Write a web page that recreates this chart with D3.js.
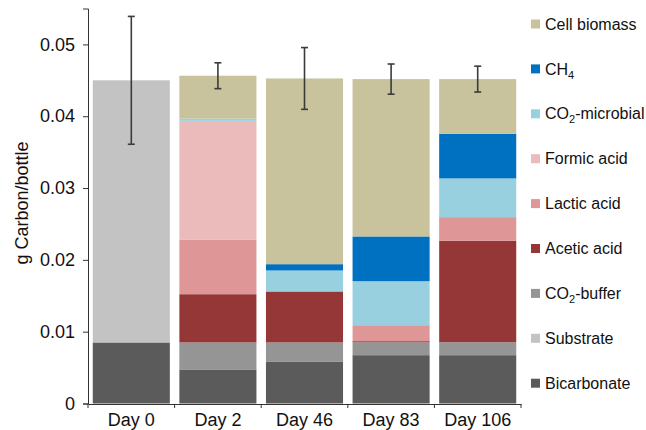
<!DOCTYPE html>
<html>
<head>
<meta charset="utf-8">
<script src="https://cdn.jsdelivr.net/npm/d3@7"></script>
<style>
  html, body { margin: 0; padding: 0; background: #fff; }
  svg text { font-family: "Liberation Sans", Arial, Helvetica, sans-serif; fill: #111; }
</style>
</head>
<body>
<svg id="chart" width="646" height="430"></svg>
<script>
// Carbon balance per bottle over the incubation, stacked by carbon pool
const days = ["Day 0", "Day 2", "Day 46", "Day 83", "Day 106"];

// Pools listed from the bottom of each stack to the top
const bicarbonate  = [0.0085,  0.00474, 0.00585, 0.00673, 0.00673];
const substrate    = [0.0365,  0,       0,       0,       0];
const co2Buffer    = [0,       0.00376, 0.00265, 0.0018,  0.00181];
const aceticAcid   = [0,       0.00672, 0.0071,  0.00015, 0.01411];
const lacticAcid   = [0,       0.00762, 0,       0.00222, 0.0033];
const formicAcid   = [0,       0.01652, 0,       0,       0];
const co2Microbial = [0,       0.0003,  0.00292, 0.00613, 0.00539];
const ch4          = [0,       0,       0.00088, 0.00623, 0.00621];
const cellBiomass  = [0,       0.00598, 0.02586, 0.02191, 0.00762];

// Standard deviation of total carbon per bottle
const totalError = [0.0089, 0.0018, 0.0043, 0.0021, 0.0018];

const yTicks = [0, 0.01, 0.02, 0.03, 0.04, 0.05];

const series = [
  { key: "bicarbonate",  values: bicarbonate,  color: "#5b5b5b", label: [["Bicarbonate"]] },
  { key: "substrate",    values: substrate,    color: "#c3c3c3", label: [["Substrate"]] },
  { key: "co2Buffer",    values: co2Buffer,    color: "#959595", label: [["CO"], ["2", "sub"], ["-buffer"]] },
  { key: "aceticAcid",   values: aceticAcid,   color: "#963737", label: [["Acetic acid"]] },
  { key: "lacticAcid",   values: lacticAcid,   color: "#de9696", label: [["Lactic acid"]] },
  { key: "formicAcid",   values: formicAcid,   color: "#ebbbbc", label: [["Formic acid"]] },
  { key: "co2Microbial", values: co2Microbial, color: "#98d0e0", label: [["CO"], ["2", "sub"], ["-microbial"]] },
  { key: "ch4",          values: ch4,          color: "#0071c1", label: [["CH"], ["4", "sub"]] },
  { key: "cellBiomass",  values: cellBiomass,  color: "#c8c29d", label: [["Cell biomass"]] }
];

const rows = days.map((d, i) => {
  const r = { day: d };
  series.forEach(s => { r[s.key] = s.values[i]; });
  return r;
});

const svg = d3.select("#chart");
const axisColor = "#333";

const x = d3.scaleBand()
  .domain(days)
  .range([88, 521])
  .paddingInner(0.11)
  .paddingOuter(0.055);

const y = d3.scaleLinear()
  .domain([0, 0.055])
  .range([403.5, 8.5]);

const stacked = d3.stack().keys(series.map(s => s.key))(rows);

// Stacked bars
const layer = svg.append("g")
  .selectAll("g")
  .data(stacked)
  .join("g")
  .attr("fill", (d, i) => series[i].color);

layer.selectAll("rect")
  .data(d => d)
  .join("rect")
  .attr("x", d => x(d.data.day))
  .attr("width", x.bandwidth())
  .attr("y", d => y(d[1]))
  .attr("height", d => Math.max(0, y(d[0]) - y(d[1])));

// Error bars on the total
const totals = rows.map(r => d3.sum(series, s => r[s.key]));
const eb = svg.append("g")
  .attr("stroke", "#3b3b3b")
  .attr("stroke-width", 1.6);

days.forEach((d, i) => {
  const cx = x(d) + x.bandwidth() / 2;
  const hi = y(totals[i] + totalError[i]);
  const lo = y(totals[i] - totalError[i]);
  eb.append("line").attr("x1", cx).attr("x2", cx).attr("y1", hi).attr("y2", lo);
  eb.append("line").attr("x1", cx - 3.5).attr("x2", cx + 3.5).attr("y1", hi).attr("y2", hi);
  eb.append("line").attr("x1", cx - 3.5).attr("x2", cx + 3.5).attr("y1", lo).attr("y2", lo);
});

// Y axis
const yAxis = svg.append("g")
  .attr("transform", "translate(88,0)")
  .call(d3.axisLeft(y)
    .tickValues(yTicks)
    .tickSize(5)
    .tickPadding(8)
    .tickFormat(d => d === 0 ? "0" : d3.format(".2f")(d)));
yAxis.select(".domain").attr("stroke", axisColor);
yAxis.selectAll(".tick line").attr("stroke", axisColor);
yAxis.selectAll(".tick text")
  .attr("font-size", 18)
  .attr("fill", "#111")
  .style("font-family", "'Liberation Sans', Arial, sans-serif");

// X axis: labels under bars, ticks on band boundaries
const xAxis = svg.append("g")
  .attr("transform", "translate(0,404)")
  .call(d3.axisBottom(x).tickSize(0).tickPadding(8));
xAxis.select(".domain").attr("stroke", axisColor);
xAxis.selectAll(".tick text")
  .attr("font-size", 18)
  .attr("fill", "#111")
  .attr("dy", "0.76em")
  .style("font-family", "'Liberation Sans', Arial, sans-serif");

const boundaries = [x.range()[0]].concat(days.map(d => x(d) + x.bandwidth() + x.step() * x.paddingInner() / 2));
boundaries[boundaries.length - 1] = x.range()[1];
xAxis.selectAll(".bound")
  .data(boundaries)
  .join("line")
  .attr("class", "bound")
  .attr("x1", d => d).attr("x2", d => d)
  .attr("y1", 0).attr("y2", 4)
  .attr("stroke", axisColor);

// Y axis title
svg.append("text")
  .attr("transform", "translate(28,203) rotate(-90)")
  .attr("text-anchor", "middle")
  .attr("font-size", 18)
  .text("g Carbon/bottle");

// Legend, top entry is the top of the stack
const legendItems = series.slice().reverse();
const legend = svg.append("g");
legendItems.forEach((s, i) => {
  const cy = 24 + i * 44.9;
  legend.append("rect")
    .attr("x", 531).attr("y", cy - 4.5)
    .attr("width", 9).attr("height", 9)
    .attr("fill", s.color);
  const t = legend.append("text")
    .attr("x", 545).attr("y", cy + 5.6)
    .attr("font-size", 16);
  s.label.forEach(part => {
    const ts = t.append("tspan").text(part[0]);
    if (part[1] === "sub") {
      ts.attr("font-size", 11).attr("dy", 4);
    } else if (t.selectAll("tspan").size() > 1) {
      ts.attr("dy", -4);
    }
  });
});
</script>
</body>
</html>
